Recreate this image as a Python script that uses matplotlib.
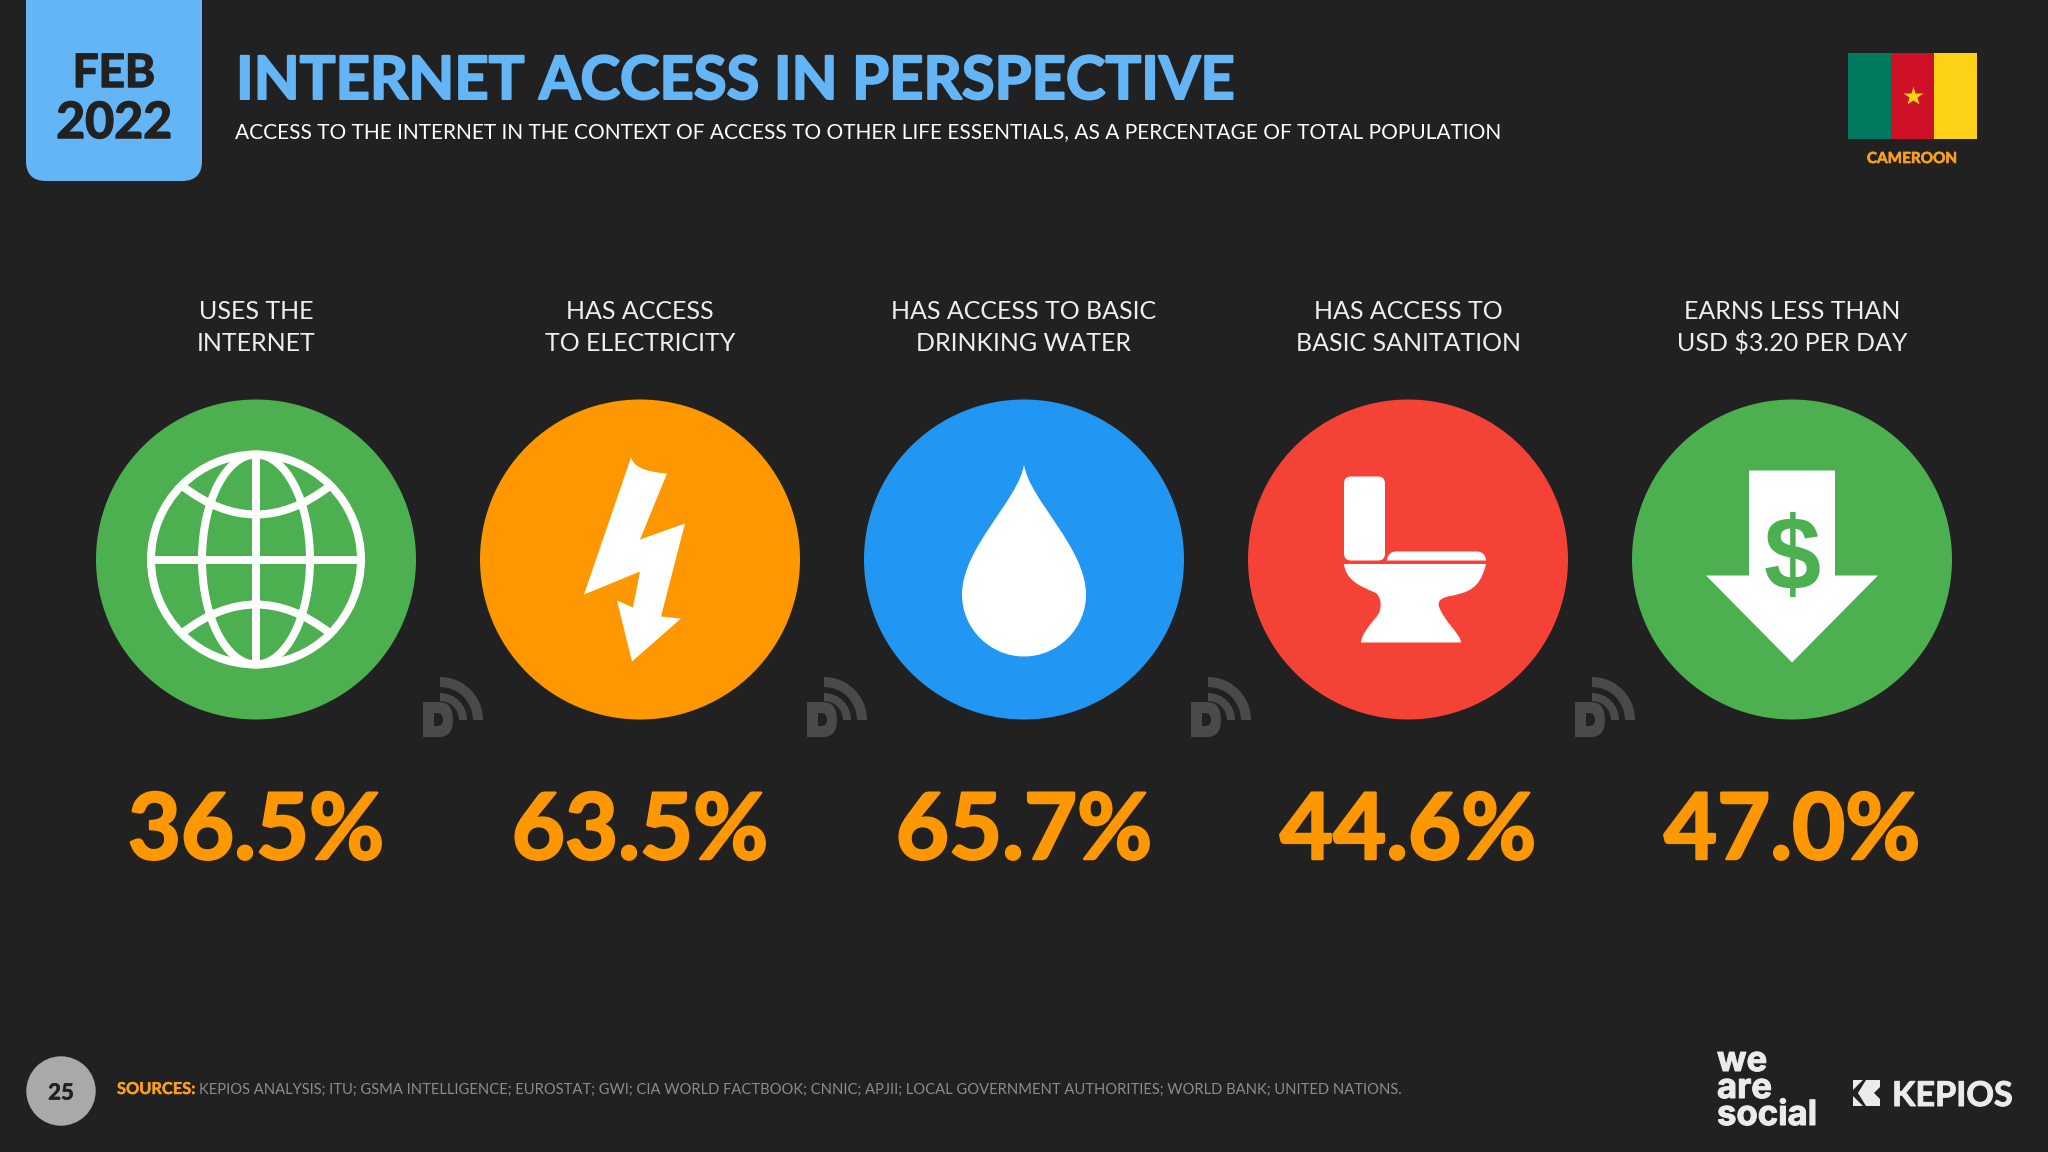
#!/usr/bin/env python3
import matplotlib
matplotlib.use("Agg")
import matplotlib.patheffects as pe
import matplotlib.pyplot as plt
from matplotlib.patches import Circle, FancyBboxPatch, PathPatch, Polygon, Rectangle, Wedge
from matplotlib.path import Path

# chart data
date_month = "FEB"
date_year = "2022"
title = "INTERNET ACCESS IN PERSPECTIVE"
subtitle = "ACCESS TO THE INTERNET IN THE CONTEXT OF ACCESS TO OTHER LIFE ESSENTIALS, AS A PERCENTAGE OF TOTAL POPULATION"
country = "CAMEROON"
categories = [
    "USES THE\nINTERNET",
    "HAS ACCESS\nTO ELECTRICITY",
    "HAS ACCESS TO BASIC\nDRINKING WATER",
    "HAS ACCESS TO\nBASIC SANITATION",
    "EARNS LESS THAN\nUSD $3.20 PER DAY",
]
values = [36.5, 63.5, 65.7, 44.6, 47.0]
page_number = "25"
sources_head = "SOURCES:"
sources_text = "KEPIOS ANALYSIS; ITU; GSMA INTELLIGENCE; EUROSTAT; GWI; CIA WORLD FACTBOOK; CNNIC; APJII; LOCAL GOVERNMENT AUTHORITIES; WORLD BANK; UNITED NATIONS."

circle_colors = ["#4CAF50", "#FF9800", "#2196F3", "#F44336", "#4CAF50"]
BG = "#212122"
BLUE = "#64B5F6"
ORANGE = "#FF9800"
FONT = "Lato"
PX = 0.72  # one pixel in points at dpi 100

plt.rcParams["font.family"] = [FONT, "DejaVu Sans"]

fig = plt.figure(figsize=(20.48, 11.52), dpi=100, facecolor=BG)
ax = fig.add_axes([0, 0, 1, 1])
ax.set_xlim(0, 2048)
ax.set_ylim(1152, 0)
ax.axis("off")


def heavy(color, px):
    return [pe.withStroke(linewidth=px * PX, foreground=color)]


def shape(cx, cy, verts, codes, color="white"):
    pts = [(cx + x, cy + y) for x, y in verts]
    ax.add_patch(PathPatch(Path(pts, codes), facecolor=color, edgecolor="none"))


def stroke(cx, cy, verts, codes, lw=8):
    pts = [(cx + x, cy + y) for x, y in verts]
    ax.add_patch(PathPatch(Path(pts, codes), facecolor="none", edgecolor="white", lw=lw * PX))


def globe(cx, cy):
    r = 105
    ax.add_patch(Circle((cx, cy), r, fc="none", ec="white", lw=8 * PX))
    ax.plot([cx - r, cx + r], [cy, cy], color="white", lw=8 * PX, solid_capstyle="butt")
    ax.plot([cx, cx], [cy - r, cy + r], color="white", lw=8 * PX, solid_capstyle="butt")
    k = 0.5523
    w = 54
    stroke(cx, cy, [(0, -r), (w * k, -r), (w, -r * k), (w, 0), (w, r * k), (w * k, r), (0, r),
                    (-w * k, r), (-w, r * k), (-w, 0), (-w, -r * k), (-w * k, -r), (0, -r)],
           [Path.MOVETO] + [Path.CURVE4] * 12)
    for s in (-1, 1):
        stroke(cx, cy, [(-73, s * 73), (0, s * 17), (73, s * 73)], [Path.MOVETO, Path.CURVE3, Path.CURVE3])


def bolt(cx, cy):
    v = [(-9, -102), (-5, -88), (27, -86), (0, -20), (45, -36), (21, 57), (41, 59), (-8, 102),
         (-23, 41), (-7, 48), (0, 12), (-56, 35), (-9, -102)]
    c = [Path.MOVETO, Path.CURVE3, Path.CURVE3] + [Path.LINETO] * 9 + [Path.CLOSEPOLY]
    shape(cx, cy, v, c)


def drop(cx, cy):
    k = 34
    v = [(0, -95), (-5, -60), (-62, -12), (-62, 35), (-62, 35 + k), (-k, 97), (0, 97),
         (k, 97), (62, 35 + k), (62, 35), (62, -12), (5, -60), (0, -95), (0, -95)]
    c = [Path.MOVETO] + [Path.CURVE4] * 12 + [Path.CLOSEPOLY]
    shape(cx, cy, v, c)


def toilet(cx, cy):
    ax.add_patch(FancyBboxPatch((cx - 58, cy - 77), 29, 72, boxstyle="round,pad=6,rounding_size=7",
                                fc="white", ec="none"))
    # lid
    v = [(-21, 1), (-21, -2), (-19, -8), (-12, -8), (69, -8), (75, -8), (78, -3), (78, 1), (-21, 1)]
    c = [Path.MOVETO, Path.CURVE4, Path.CURVE4, Path.CURVE4, Path.LINETO, Path.CURVE4, Path.CURVE4,
         Path.CURVE4, Path.CLOSEPOLY]
    shape(cx, cy, v, c)
    # bowl
    v = [(-64, 4.5), (-62, 20), (-50, 26), (-33, 33), (-27, 36), (-24, 50), (-33, 59),
         (-40, 68), (-46, 74), (-47, 83), (53, 83), (53, 75), (36, 62), (31, 47),
         (29, 40), (36, 38), (40, 37), (60, 33), (72, 30), (78, 4.5), (-64, 4.5)]
    c = [Path.MOVETO] + [Path.CURVE4] * 9 + [Path.LINETO] + [Path.CURVE4] * 9 + [Path.CLOSEPOLY]
    shape(cx, cy, v, c)


def money(cx, cy):
    ax.add_patch(Polygon([(cx - 43, cy - 89), (cx + 43, cy - 89), (cx + 43, cy + 16), (cx + 86, cy + 16),
                          (cx, cy + 103), (cx - 86, cy + 16), (cx - 43, cy + 16)], fc="white", ec="none"))
    ax.text(cx, cy - 8, "$", color=circle_colors[4], fontsize=74, fontweight="bold", ha="center",
            va="center_baseline", family=["Liberation Sans", "DejaVu Sans"])


def signal_mark(cx, cy):
    color = "#4A4A4C"
    ax.add_patch(Wedge((cx, cy), 43, 270, 360, width=10, fc=color, ec="none"))
    ax.add_patch(Wedge((cx, cy), 27, 270, 360, width=8, fc=color, ec="none"))
    ax.add_patch(Rectangle((cx - 17, cy - 18), 11, 35, fc=color, ec="none"))
    v = [(-17, -18), (-1, -18), (13, -18), (13, 0), (13, 17), (-1, 17), (-17, 17), (-17, 6),
         (-3, 6), (3, 6), (3, 0), (3, -7), (-3, -7), (-17, -7), (-17, -18)]
    c = [Path.MOVETO, Path.LINETO, Path.CURVE3, Path.CURVE3, Path.CURVE3, Path.CURVE3, Path.LINETO,
         Path.LINETO, Path.LINETO, Path.CURVE3, Path.CURVE3, Path.CURVE3, Path.CURVE3, Path.LINETO, Path.CLOSEPOLY]
    shape(cx, cy, v, c, color=color)


# header
ax.add_patch(FancyBboxPatch((26, -40), 176, 221, boxstyle="round,pad=0,rounding_size=20", fc=BLUE, ec="none"))
ax.text(114, 87, date_month, color=BG, fontsize=33, fontweight="bold", ha="center", va="baseline",
        path_effects=heavy(BG, 1.5))
ax.text(114, 138, date_year, color=BG, fontsize=36, fontweight="bold", ha="center", va="baseline",
        path_effects=heavy(BG, 1.5))
ax.text(236, 99, title, color=BLUE, fontsize=43, fontweight="bold", ha="left", va="baseline",
        path_effects=heavy(BLUE, 2))
ax.text(235, 138, subtitle, color="white", fontsize=15, ha="left", va="baseline")

# flag
for x0, col in zip([1848, 1891, 1934], ["#007A5E", "#CE1126", "#FCD116"]):
    ax.add_patch(Rectangle((x0, 53), 43, 86, fc=col, ec="none"))
ax.plot([1912.5], [96], marker="*", ms=21 * PX, color="#FCD116", mec="none")
ax.text(1912, 163, country, color="#F9A01B", fontsize=11, fontweight="bold", ha="center", va="baseline",
        path_effects=heavy("#F9A01B", 0.6))

# the five columns
icons = [globe, bolt, drop, toilet, money]
centers = [256 + 384 * i for i in range(len(values))]
CY = 559.5
for i, (cat, val) in enumerate(zip(categories, values)):
    cx = centers[i]
    line1, line2 = cat.split("\n")
    ax.text(cx, 319, line1, color="#EEEEEE", fontsize=18, ha="center", va="baseline")
    ax.text(cx, 351, line2, color="#EEEEEE", fontsize=18, ha="center", va="baseline")
    ax.add_patch(Circle((cx, CY), 160, fc=circle_colors[i], ec="none"))
    icons[i](cx, CY)
    ax.text(cx, 859, f"{val:.1f}%", color=ORANGE, fontsize=66, fontweight="bold", ha="center", va="baseline",
            path_effects=heavy(ORANGE, 2.5))
    if i < len(values) - 1:
        signal_mark(cx + 184, 720)

# footer
ax.add_patch(Circle((61, 1091), 34.7, fc="#A9A9A9", ec="none"))
ax.text(61, 1091, page_number, color="#212121", fontsize=16, fontweight="bold", ha="center", va="center_baseline",
        path_effects=heavy("#212121", 0.6))
ax.text(117, 1094, sources_head, color="#F9A01B", fontsize=11.8, fontweight="bold", ha="left", va="baseline",
        path_effects=heavy("#F9A01B", 0.4))
ax.text(199, 1094, sources_text, color="#8C8C8C", fontsize=10.65, ha="left", va="baseline")

# logos
ax.text(1717, 1125, "we\nare\nsocial", color="#EBEBEB", fontsize=25, fontweight="bold", ha="left", va="baseline",
        family=["Inter", "Lato"], linespacing=0.8, path_effects=heavy("#EBEBEB", 1))
ax.text(1892, 1106, "KEPIOS", color="#EBEBEB", fontsize=24.6, fontweight="bold", ha="left", va="baseline",
        path_effects=heavy("#EBEBEB", 1))
for poly in ([(1853, 1080), (1863, 1080), (1853, 1090)], [(1853, 1096), (1863, 1106), (1853, 1106)],
             [(1866, 1080), (1880, 1080), (1880, 1087), (1874, 1093), (1880, 1099), (1880, 1106),
              (1866, 1106), (1858, 1093)]):
    ax.add_patch(Polygon(poly, fc="#EBEBEB", ec="none"))

fig.savefig("out.png", dpi=100, facecolor=BG)
